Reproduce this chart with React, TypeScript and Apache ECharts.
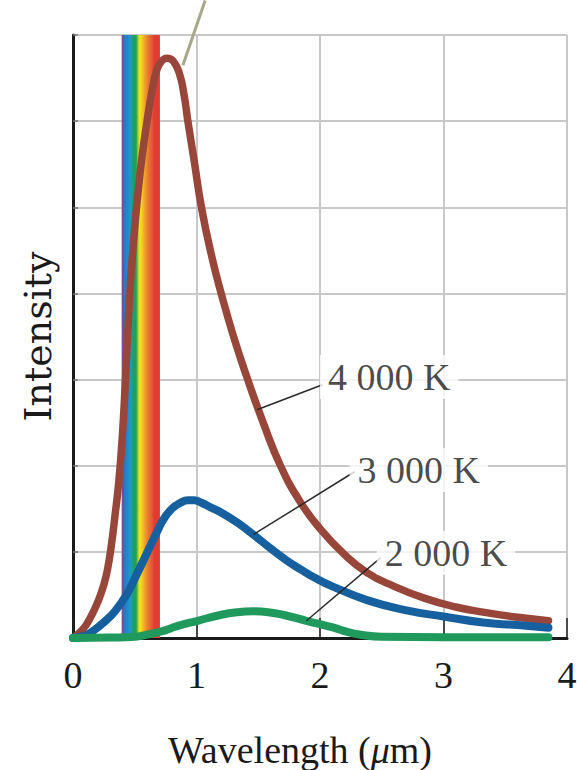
import React, { useEffect, useRef } from "react";
import * as echarts from "echarts";

// ---- data ----
const xTickLabels = ["0", "1", "2", "3", "4"];
const curveNames = ["4 000 K", "3 000 K", "2 000 K"];

const curve4000: [number, number][] = [
  [0, 0], [0.06, 0.07], [0.11, 0.16], [0.16, 0.29], [0.21, 0.45], [0.25, 0.62],
  [0.28, 0.8], [0.31, 1.07], [0.34, 1.42], [0.37, 1.8], [0.4, 2.35], [0.43, 3.15],
  [0.46, 4.0], [0.49, 4.6], [0.52, 5.08], [0.56, 5.6], [0.6, 6.0], [0.64, 6.35],
  [0.68, 6.6], [0.72, 6.7], [0.76, 6.73], [0.81, 6.7], [0.86, 6.56], [0.9, 6.3],
  [0.93, 6.0], [0.98, 5.55], [1.04, 5.0], [1.12, 4.45], [1.2, 4.0], [1.3, 3.5],
  [1.41, 3.02], [1.54, 2.5], [1.68, 2.0], [1.84, 1.58], [2.0, 1.27], [2.19, 0.98],
  [2.38, 0.76], [2.6, 0.6], [2.85, 0.46], [3.1, 0.36], [3.32, 0.3], [3.6, 0.24],
  [3.85, 0.2],
];
const curve3000: [number, number][] = [
  [0, 0], [0.1, 0.03], [0.17, 0.09], [0.24, 0.17], [0.34, 0.31], [0.44, 0.52],
  [0.52, 0.75], [0.6, 0.99], [0.67, 1.2], [0.73, 1.37], [0.8, 1.5], [0.87, 1.57],
  [0.93, 1.6], [0.98, 1.6], [1.04, 1.57], [1.11, 1.52], [1.22, 1.44], [1.33, 1.34],
  [1.46, 1.2], [1.6, 1.04], [1.73, 0.9], [1.84, 0.8], [1.97, 0.69], [2.1, 0.6],
  [2.38, 0.44], [2.7, 0.32], [3.0, 0.25], [3.32, 0.18], [3.6, 0.15], [3.85, 0.12],
];
const curve2000: [number, number][] = [
  [0, 0], [0.3, 0.005], [0.5, 0.015], [0.6, 0.04], [0.7, 0.07], [0.85, 0.14],
  [1.01, 0.2], [1.2, 0.27], [1.33, 0.3], [1.46, 0.31], [1.58, 0.3], [1.7, 0.27],
  [1.89, 0.2], [2.11, 0.12], [2.22, 0.07], [2.32, 0.04], [2.5, 0.015], [3.0, 0.01],
  [3.85, 0.01],
];

const labelAnchors: [number, number][] = [[2.56, 3.03], [2.8, 1.95], [3.02, 0.99]];
const leaderLines: [number, number][][] = [
  [[1.49, 2.65], [2.02, 2.94]],
  [[1.46, 1.2], [2.28, 1.93]],
  [[1.89, 0.2], [2.49, 0.93]],
];
const topLeader: [number, number][] = [[0.89, 6.65], [1.07, 7.4]];
const visibleRange: [number, number] = [0.394, 0.704];
const spectrumStops: [number, string][] = [
  [0, "#7b4b9e"], [0.055, "#7b4b9e"], [0.07, "#2a78c2"], [0.19, "#1f8fd0"],
  [0.24, "#1a9fb0"], [0.3, "#1b9e70"], [0.38, "#25a050"], [0.43, "#a6cc34"],
  [0.47, "#f4e41c"], [0.53, "#f5cc22"], [0.6, "#f0a22a"], [0.7, "#e8762e"],
  [0.8, "#e4543a"], [0.85, "#e23c32"], [1, "#e23c32"],
];

const SERIF = "'Liberation Serif', 'Times New Roman', serif";

export default function App() {
  const ref = useRef<HTMLDivElement>(null);
  useEffect(() => {
    if (!ref.current) return;
    const chart = echarts.init(ref.current, null, { renderer: "svg" });
    const colors = ["#98463a", "#17609f", "#1f9a5c"];
    const curves = [curve4000, curve3000, curve2000];
    const series: any[] = [];
    series.push({
      type: "line",
      data: [],
      z: 1,
      silent: true,
      markArea: {
        silent: true,
        itemStyle: {
          color: new echarts.graphic.LinearGradient(
            0, 0, 1, 0,
            spectrumStops.map(([offset, color]) => ({ offset, color }))
          ),
        },
        data: [[{ xAxis: visibleRange[0], yAxis: 0 }, { xAxis: visibleRange[1], yAxis: 7 }]],
      },
    });
    series.push({
      type: "line",
      data: topLeader,
      symbol: "none",
      clip: false,
      z: 2,
      silent: true,
      lineStyle: { color: "#a9a78a", width: 3 },
    });
    curves.forEach((c, i) => {
      series.push({
        type: "line",
        name: curveNames[i],
        data: c,
        symbol: "none",
        smooth: 0.5,
        z: 3 + i,
        silent: true,
        lineStyle: { color: colors[i], width: i === 0 ? 7.5 : 8, cap: "round" },
      });
    });
    leaderLines.forEach((l) => {
      series.push({
        type: "line",
        data: l,
        symbol: "none",
        z: 7,
        silent: true,
        lineStyle: { color: "#2a2a2a", width: 1.5 },
      });
    });
    series.push({
      type: "scatter",
      data: labelAnchors.map((p, i) => ({ value: p, name: curveNames[i] })),
      symbolSize: 1,
      itemStyle: { color: "rgba(0,0,0,0)" },
      z: 10,
      silent: true,
      label: {
        show: true,
        position: "inside",
        formatter: "{b}",
        fontFamily: SERIF,
        fontSize: 38,
        color: "#1a1a1a",
        backgroundColor: "#ffffff",
        padding: [3, 8],
      },
    });

    chart.setOption({
      animation: false,
      backgroundColor: "#ffffff",
      grid: { left: 73, right: 10, top: 35, bottom: 132, outerBoundsMode: "none", containLabel: false },
      xAxis: {
        type: "value",
        min: 0,
        max: 4,
        interval: 1,
        axisLine: { show: true, lineStyle: { color: "#1a1a1a", width: 3 } },
        axisTick: { show: true, inside: true, length: 20, lineStyle: { color: "#222", width: 1.5 } },
        axisLabel: {
          formatter: (v: number) => xTickLabels[Math.round(v)] ?? "",
          fontFamily: SERIF,
          fontSize: 38,
          color: "#1a1a1a",
          margin: 18,
        },
        splitLine: { show: true, lineStyle: { color: "#c8c8c8", width: 2 } },
        name: "Wavelength ({i|μ}m)",
        nameLocation: "middle",
        nameGap: 93,
        nameTextStyle: {
          fontFamily: SERIF,
          fontSize: 38,
          color: "#1a1a1a",
          padding: [0, 40, 0, 0],
          rich: { i: { fontFamily: SERIF, fontSize: 38, fontStyle: "italic", color: "#1a1a1a" } },
        },
      },
      yAxis: {
        type: "value",
        min: 0,
        max: 7,
        interval: 1,
        axisLine: { show: true, lineStyle: { color: "#1a1a1a", width: 3 } },
        axisTick: { show: true, inside: true, length: 5, lineStyle: { color: "#777", width: 1.5 } },
        axisLabel: { show: false },
        splitLine: { show: true, lineStyle: { color: "#c8c8c8", width: 2 } },
        name: "Intensity",
        nameLocation: "middle",
        nameGap: 16,
        nameRotate: 90,
        nameTextStyle: { fontFamily: "'DejaVu Serif', serif", fontSize: 38, color: "#1a1a1a" },
      },
      series,
    });
    return () => chart.dispose();
  }, []);
  return (
    <div
      ref={ref}
      style={{ position: "absolute", left: 0, top: 0, width: 577, height: 770, background: "#fff" }}
    />
  );
}
